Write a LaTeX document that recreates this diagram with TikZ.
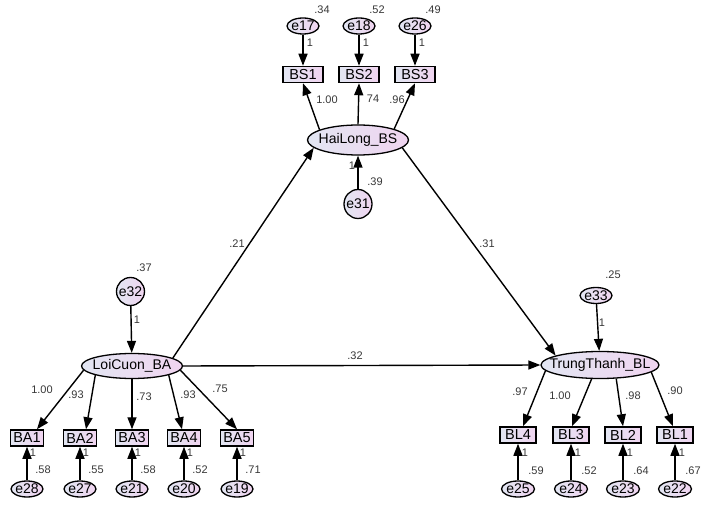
\documentclass[tikz,border=0pt]{standalone}
\usepackage{fontspec}
\setmainfont{Liberation Sans}
\usetikzlibrary{arrows.meta,shapes.geometric,calc}
\definecolor{lavL}{RGB}{226,230,242}
\definecolor{lavR}{RGB}{240,212,240}
\definecolor{labgray}{RGB}{55,55,55}
\begin{document}
\begin{tikzpicture}[x=1pt,y=-1pt,
  lat/.style={ellipse, draw, line width=1.3pt, left color=lavL, right color=lavR, inner xsep=-20pt, inner ysep=-8pt, font=\fontsize{14}{14}\selectfont},
  err/.style={ellipse, draw, line width=1.3pt, left color=lavL, right color=lavR, inner xsep=-8pt, inner ysep=-8pt, minimum width=32pt, minimum height=16pt, font=\fontsize{14}{14}\selectfont},
  obs/.style={rectangle, draw, line width=1.5pt, left color=lavL, right color=lavR, inner sep=0pt, minimum height=16pt, font=\fontsize{14.5}{14.5}\selectfont},
  arr/.style={-{Triangle[length=12pt,width=9pt]}, line width=1.4pt},
  lbl/.style={font=\fontsize{11}{11}\selectfont, text=labgray, inner sep=0pt}]
\useasboundingbox (0,0) rectangle (705,505);
% latent variables
\node[lat, minimum width=101pt, minimum height=30pt] (hl) at (358,140) {HaiLong\_BS};
\node[lat, minimum width=101pt, minimum height=25pt] (lc) at (132,366) {LoiCuon\_BA};
\node[lat, minimum width=118pt, minimum height=27pt] (tt) at (600,365) {TrungThanh\_BL};
% top indicators
\node[obs, minimum width=40pt] (bs1) at (303,74.5) {BS1};
\node[obs, minimum width=40pt] (bs2) at (359,74.5) {BS2};
\node[obs, minimum width=40pt] (bs3) at (415,74.5) {BS3};
\node[err] (e17) at (303,26) {e17};
\node[err] (e18) at (359,26) {e18};
\node[err] (e26) at (415,26) {e26};
\node[err, minimum width=28pt, minimum height=29pt] (e31) at (358,204) {e31};
% left indicators
\node[obs, minimum width=33pt] (ba1) at (27,438) {BA1};
\node[obs, minimum width=33pt] (ba2) at (80,438) {BA2};
\node[obs, minimum width=33pt] (ba3) at (132,438) {BA3};
\node[obs, minimum width=33pt] (ba4) at (184,438) {BA4};
\node[obs, minimum width=33pt] (ba5) at (237,438) {BA5};
\node[err] (e28) at (27,489) {e28};
\node[err] (e27) at (80,489) {e27};
\node[err] (e21) at (132,489) {e21};
\node[err] (e20) at (184,489) {e20};
\node[err] (e19) at (237,489) {e19};
\node[err, minimum width=28pt, minimum height=28pt] (e32) at (130.5,291.5) {e32};
% right indicators
\node[obs, minimum width=36pt] (bl4) at (518,435) {BL4};
\node[obs, minimum width=36pt] (bl3) at (571,435) {BL3};
\node[obs, minimum width=36pt] (bl2) at (623,435) {BL2};
\node[obs, minimum width=36pt] (bl1) at (675,435) {BL1};
\node[err, minimum width=33pt] (e25) at (518,489) {e25};
\node[err, minimum width=33pt] (e24) at (571,489) {e24};
\node[err, minimum width=33pt] (e23) at (623,489) {e23};
\node[err, minimum width=33pt] (e22) at (675,489) {e22};
\node[err] (e33) at (596,295.5) {e33};
% structural paths
\draw[arr] (lc.11) -- (hl.190);
\draw[arr] (hl.-10) -- (tt.168);
\draw[arr] (lc.east) -- (tt.west);
% HaiLong measurement
\draw[arr] (hl.165) -- (bs1.south);
\draw[arr] (hl.north) -- (bs2.south);
\draw[arr] (hl.17) -- (bs3.south);
\draw[arr] (e17) -- (bs1);
\draw[arr] (e18) -- (bs2);
\draw[arr] (e26) -- (bs3);
\draw[arr] (e31) -- (hl);
% LoiCuon measurement
\draw[arr] (e32) -- (lc);
\draw[arr] (lc.185) -- ([xshift=10pt]ba1.north);
\draw[arr] (lc.194) -- ([xshift=6pt]ba2.north);
\draw[arr] (lc.south) -- (ba3.north);
\draw[arr] (lc.-14) -- ([xshift=-2pt]ba4.north);
\draw[arr] (lc.-5) -- (ba5.north);
\draw[arr] (e28) -- (ba1);
\draw[arr] (e27) -- (ba2);
\draw[arr] (e21) -- (ba3);
\draw[arr] (e20) -- (ba4);
\draw[arr] (e19) -- (ba5);
% TrungThanh measurement
\draw[arr] (e33) -- (tt);
\draw[arr] (tt.186) -- ([xshift=5pt]bl4.north);
\draw[arr] (tt.239) -- ([xshift=1pt]bl3.north);
\draw[arr] (tt.-40) -- (bl2.north);
\draw[arr] (tt.-8) -- ([xshift=-2pt]bl1.north);
\draw[arr] (e25) -- (bl4);
\draw[arr] (e24) -- (bl3);
\draw[arr] (e23) -- (bl2);
\draw[arr] (e22) -- (bl1);
% labels
\node[lbl] (l34) at (322,10) {.34};
\node[lbl] (l52a) at (377,10) {.52};
\node[lbl] (l49) at (433,10) {.49};
\node[lbl] (o17) at (310,43) {1};
\node[lbl] (o18) at (366,43) {1};
\node[lbl] (o26) at (422,43) {1};
\node[lbl] (w1) at (327,100) {1.00};
\node[lbl] (w2) at (373,99) {74};
\node[lbl] (w3) at (397,100) {.96};
\node[lbl] (o31) at (352,166) {1};
\node[lbl] (l39) at (375,182) {.39};
\node[lbl] (p21) at (237,244) {.21};
\node[lbl] (p31) at (487,244) {.31};
\node[lbl] (p32) at (355,356) {.32};
\node[lbl] (l37) at (144,268) {.37};
\node[lbl] (o32) at (137,320) {1};
\node[lbl] (wa1) at (42,390) {1.00};
\node[lbl] (wa2) at (76,395) {.93};
\node[lbl] (wa3) at (144,397) {.73};
\node[lbl] (wa4) at (188,395) {.93};
\node[lbl] (wa5) at (220,389) {.75};
\node[lbl] (o28) at (33,453) {1};
\node[lbl] (o27) at (86,453) {1};
\node[lbl] (o21) at (138,453) {1};
\node[lbl] (o20) at (190,453) {1};
\node[lbl] (o19) at (243,453) {1};
\node[lbl] (v28) at (43,470) {.58};
\node[lbl] (v27) at (96,470) {.55};
\node[lbl] (v21) at (148,470) {.58};
\node[lbl] (v20) at (200,470) {.52};
\node[lbl] (v19) at (253,470) {.71};
\node[lbl] (l25) at (613,275) {.25};
\node[lbl] (o33) at (602,323) {1};
\node[lbl] (wl4) at (520,392) {.97};
\node[lbl] (wl3) at (560,396) {1.00};
\node[lbl] (wl2) at (633,396) {.98};
\node[lbl] (wl1) at (675,391) {.90};
\node[lbl] (o25) at (525,453) {1};
\node[lbl] (o24) at (578,453) {1};
\node[lbl] (o23) at (630,453) {1};
\node[lbl] (o22) at (682,453) {1};
\node[lbl] (v25) at (536,471) {.59};
\node[lbl] (v24) at (589,471) {.52};
\node[lbl] (v23) at (641,471) {.64};
\node[lbl] (v22) at (693,471) {.67};
\end{tikzpicture}
\end{document}
